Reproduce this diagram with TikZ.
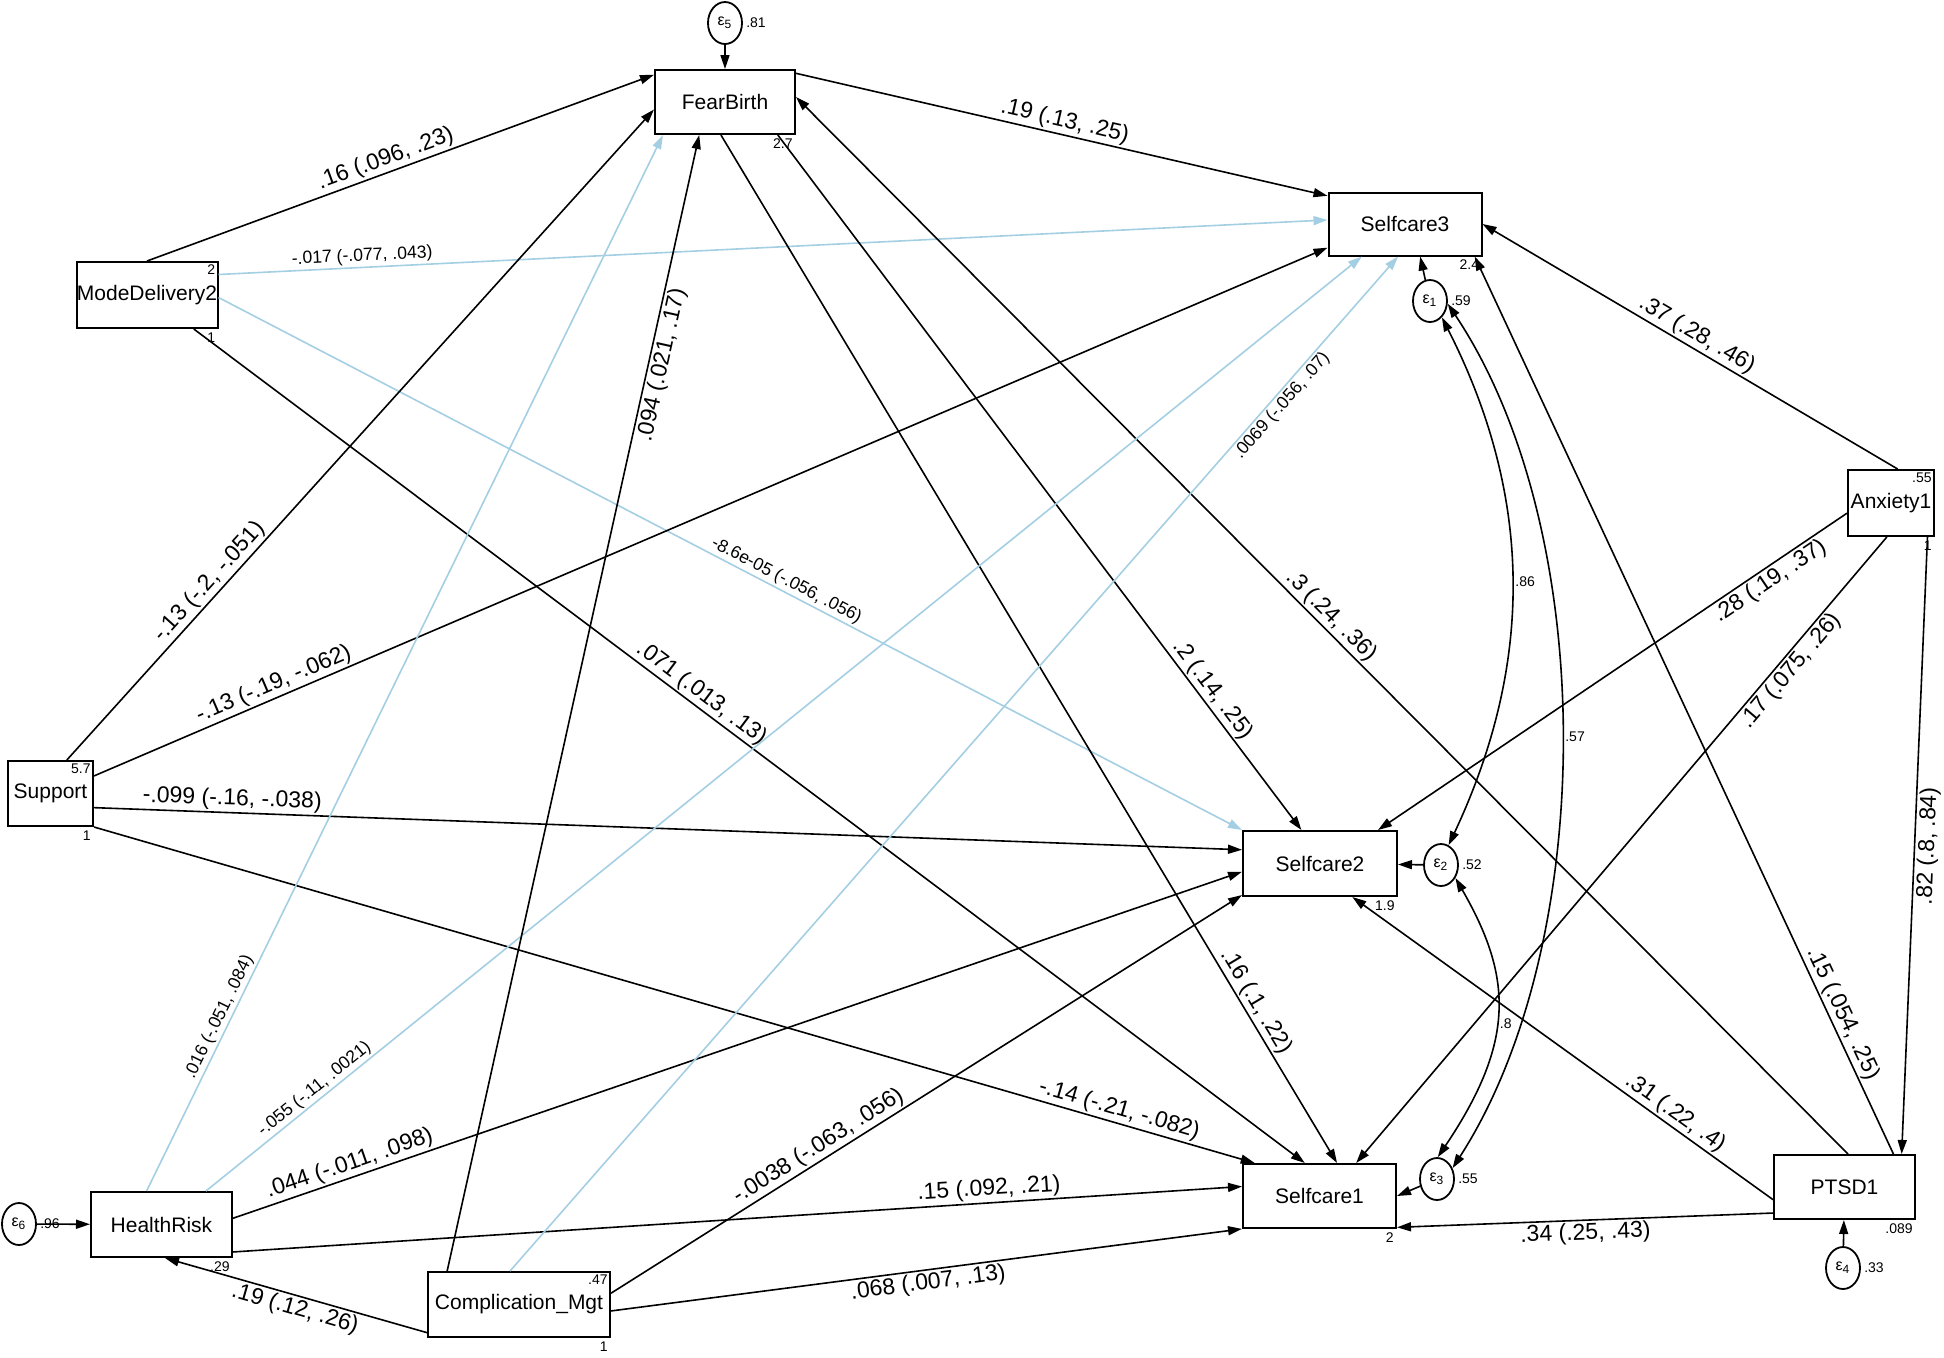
\documentclass[tikz,border=0pt]{standalone}
\usepackage{fontspec}
\setmainfont{Liberation Sans}
\usetikzlibrary{arrows.meta,shapes.geometric}
\definecolor{pathblue}{RGB}{164,207,227}

\begin{document}
\begin{tikzpicture}[x=0.5pt,y=-0.5pt]
        \tikzset{var/.style={draw,line width=1pt,inner sep=0pt,font=\fontsize{10.5}{12}\selectfont},
            err/.style={draw,ellipse,line width=0.9pt,inner sep=0pt,minimum width=17pt,minimum height=21pt,font=\fontsize{8}{9}\selectfont},
            effect/.style={draw,line width=0.8pt,-{Triangle[length=7pt,width=4.5pt]}},
            nseffect/.style={effect,draw=pathblue},
            cov/.style={draw,line width=0.8pt,{Triangle[length=7pt,width=4.5pt]}-{Triangle[length=7pt,width=4.5pt]}},
            coef/.style={sloped,inner sep=1pt,font=\fontsize{11.5}{13}\selectfont},
            smallcoef/.style={sloped,inner sep=1pt,font=\fontsize{8.8}{10}\selectfont},
            numlab/.style={inner sep=1.5pt,font=\fontsize{7}{8}\selectfont}}
        \useasboundingbox (0,0) rectangle (1944,1357);

        % observed variables
        \node[var,minimum width=70pt,minimum height=32pt] (fear) at (725,102) {FearBirth};
        \node[var,minimum width=76.5pt,minimum height=31.5pt] (sc3) at (1405,224) {Selfcare3};
        \node[var,minimum width=70.5pt,minimum height=33pt] (mode) at (147,295) {ModeDelivery2};
        \node[var,minimum width=42.5pt,minimum height=32.5pt] (supp) at (50.5,793.5) {Support};
        \node[var,minimum width=43pt,minimum height=33pt] (anx) at (1891,503) {Anxiety1};
        \node[var,minimum width=77pt,minimum height=32.5pt] (sc2) at (1320,863.5) {Selfcare2};
        \node[var,minimum width=76.5pt,minimum height=32pt] (sc1) at (1319.5,1196) {Selfcare1};
        \node[var,minimum width=70.5pt,minimum height=32pt] (ptsd) at (1844.5,1187) {PTSD1};
        \node[var,minimum width=70.5pt,minimum height=32.5pt] (hrisk) at (161.5,1224.5) {HealthRisk};
        \node[var,minimum width=91pt,minimum height=32.5pt] (comp) at (519,1304.5) {Complication\_Mgt};

        % error terms
        \node[err] (e5) at (725,23) {ε\textsubscript{5}};
        \node[err] (e1) at (1430,301) {ε\textsubscript{1}};
        \node[err] (e2) at (1441,865) {ε\textsubscript{2}};
        \node[err] (e3) at (1437,1179) {ε\textsubscript{3}};
        \node[err] (e4) at (1843,1268) {ε\textsubscript{4}};
        \node[err] (e6) at (19,1224) {ε\textsubscript{6}};

        % intercepts and variances
        \node[numlab,anchor=north east] (fearv) at (fear.south east) {2.7};
        \node[numlab,anchor=north east] (modei) at (mode.north east) {2};
        \node[numlab,anchor=north east] (modev) at (mode.south east) {1};
        \node[numlab,anchor=north east] (suppi) at (supp.north east) {5.7};
        \node[numlab,anchor=north east] (suppv) at (supp.south east) {1};
        \node[numlab,anchor=north east] (anxi) at (anx.north east) {.55};
        \node[numlab,anchor=north east] (anxv) at (anx.south east) {1};
        \node[numlab,anchor=north east] (compi) at (comp.north east) {.47};
        \node[numlab,anchor=north east] (compv) at (comp.south east) {1};
        \node[numlab,anchor=north east] (sc3v) at (sc3.south east) {2.4};
        \node[numlab,anchor=north east] (sc2v) at (sc2.south east) {1.9};
        \node[numlab,anchor=north east] (sc1v) at (sc1.south east) {2};
        \node[numlab,anchor=north east] (ptsdv) at (ptsd.south east) {.089};
        \node[numlab,anchor=north east] (hriskv) at (hrisk.south east) {.29};
        \node[numlab,anchor=west] (e5v) at (e5.east) {.81};
        \node[numlab,anchor=west] (e1v) at (e1.east) {.59};
        \node[numlab,anchor=west] (e2v) at (e2.east) {.52};
        \node[numlab,anchor=west] (e3v) at (e3.east) {.55};
        \node[numlab,anchor=west] (e4v) at (e4.east) {.33};
        \node[numlab,anchor=west] (e6v) at (e6.east) {.96};

        % error paths
        \draw[effect] (e5) -- (fear);
        \draw[effect] (e1) -- (sc3.-65);
        \draw[effect] (e2) -- (sc2);
        \draw[effect] (e3) -- (sc1.east);
        \draw[effect] (e4) -- (ptsd);
        \draw[effect] (e6) -- (hrisk);

        % structural paths
        \draw[effect] (mode.north) -- (fear.159) node[coef,pos=.48,above] (c1) {.16 (.096, .23)};
        \draw[nseffect] (mode.16) -- (sc3.177) node[smallcoef,pos=.13,above] (c2) {-.017 (-.077, .043)};
        \draw[nseffect] (mode.-2) -- (sc2.north west) node[smallcoef,pos=.55,above] (c3) {-8.6e-05 (-.056, .056)};
        \draw[effect] (mode.-36) -- (sc1.114) node[coef,pos=.45,above] (c4) {.071 (.013, .13)};
        \draw[effect] (supp.64) -- (fear.186) node[coef,pos=.26,above] (c5) {-.13 (-.2, -.051)};
        \draw[effect] (supp.22) -- (sc3.197) node[coef,pos=.15,above] (c6) {-.13 (-.19, -.062)};
        \draw[effect] (supp.-18) -- (sc2.170) node[coef,pos=.12,above] (c7) {-.099 (-.16, -.038)};
        \draw[effect] (supp.south east) -- (sc1.153) node[coef,pos=.88,above] (c8) {-.14 (-.21, -.082)};
        \draw[effect] (fear.22) -- (sc3.160) node[coef,pos=.5,above] (c9) {.19 (.13, .25)};
        \draw[effect] (fear.-32) -- (sc2.119) node[coef,pos=.81,above] (c10) {.2 (.14, .25)};
        \draw[effect] (fear.-97) -- (sc1.62) node[coef,pos=.85,above] (c11) {.16 (.1, .22)};
        \draw[effect] (ptsd.84) -- (fear.4) node[coef,pos=.5,above] (c12) {.3 (.24, .36)};
        \draw[effect] (ptsd.34.5) -- (sc3.-25) node[coef,pos=.15,above] (c13) {.15 (.054, .25)};
        \draw[effect] (anx.79) -- (sc3.east) node[coef,pos=.5,above] (c14) {.37 (.28, .46)};
        \draw[effect] (anx.193) -- (sc2.30) node[coef,pos=.18,below] (c15) {.28 (.19, .37)};
        \draw[effect] (anx.-97) -- (sc1.42) node[coef,pos=.2,below] (c16) {.17 (.075, .26)};
        \draw[effect] (anx.-43) -- (ptsd.30) node[coef,pos=.5,below] (c17) {.82 (.8, .84)};
        \draw[effect] (ptsd.200) -- (sc1.-22) node[coef,pos=.5,below] (c18) {.34 (.25, .43)};
        \draw[effect] (ptsd.190) -- (sc2.-46) node[coef,pos=.25,above] (c19) {.31 (.22, .4)};
        \draw[nseffect] (hrisk.114) -- (fear.208) node[smallcoef,pos=.16,above] (c20) {.016 (-.051, .084)};
        \draw[nseffect] (hrisk.37) -- (sc3.217) node[smallcoef,pos=.1,above] (c21) {-.055 (-.11, .0021)};
        \draw[effect] (hrisk.5) -- (sc2.186) node[coef,pos=.12,above] (c22) {.044 (-.011, .098)};
        \draw[effect] (hrisk.-21) -- (sc1.173) node[coef,pos=.75,above] (c23) {.15 (.092, .21)};
        \draw[effect] (comp.197) -- (hrisk.-84) node[coef,pos=.49,below] (c24) {.19 (.12, .26)};
        \draw[effect] (comp.155) -- (fear.232) node[coef,pos=.8,below] (c25) {.094 (.021, .17)};
        \draw[nseffect] (comp.105) -- (sc3.258) node[smallcoef,pos=.86,below] (c26) {.0069 (-.056, .07)};
        \draw[effect] (comp.7) -- (sc2.202) node[coef,pos=.34,above] (c27) {-.0038 (-.063, .056)};
        \draw[effect] (comp.-4) -- (sc1.203) node[coef,pos=.5,below] (c28) {.068 (.007, .13)};

        % error covariances
        \draw[cov] (e1.-54) .. controls +(92,181) and +(85,-181) .. (e2.69) node[numlab,pos=.5,right] (r12) {.86};
        \draw[cov] (e1.-9) .. controls +(152,228) and +(145,-225) .. (e3.35) node[numlab,pos=.5,right] (r13) {.57};
        \draw[cov] (e2.-42) .. controls +(57,99) and +(78,-116) .. (e3.88) node[numlab,pos=.55,right] (r23) {.8};
\end{tikzpicture}
\end{document}
